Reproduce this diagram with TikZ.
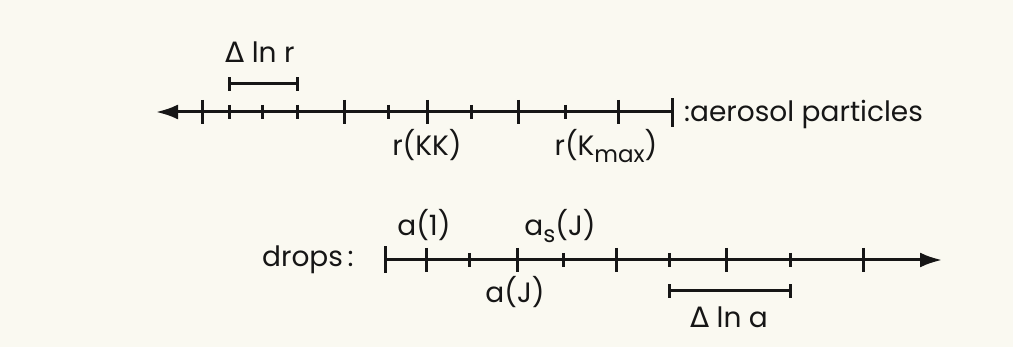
\documentclass[tikz,border=0pt]{standalone}
\usepackage{fontspec}
\setmainfont{Poppins}
\newfontfamily\deltafont{DejaVu Sans}
\usetikzlibrary{arrows.meta}
\definecolor{paper}{HTML}{FAF9F1}
\definecolor{ink}{HTML}{161616}
\newcommand{\lowidx}[1]{\raisebox{-7pt}{\fontsize{23}{23}\selectfont #1}}

\begin{document}
\begin{tikzpicture}[
  x=1pt,y=-1pt,
  axis/.style={draw=ink,line width=3pt,-{Latex[length=22pt,width=15pt]}},
  tick/.style={draw=ink,line width=3pt},
  lbl/.style={font=\fontsize{28}{28}\selectfont,text=ink,inner sep=0pt,anchor=base}
]
\fill[paper] (0,0) rectangle (1013,347);
\useasboundingbox (0,0) rectangle (1013,347);

% aerosol particles axis
\coordinate (rEnd) at (672,112);
\coordinate (rTip) at (156,112);
\draw[axis] (rEnd) -- (rTip);
\draw[tick] ([yshift=-15pt]rEnd) -- ([yshift=14pt]rEnd);
\foreach \x in {202,344,427,518,618}
  \draw[tick] (\x,{112-12}) -- (\x,{112+12});
\foreach \x in {229,262,297,388,471,565}
  \draw[tick] (\x,{112-7}) -- (\x,{112+7});

\coordinate (drA) at (229,84);
\coordinate (drB) at (297,84);
\draw[tick] (drA) -- (drB);
\draw[tick] ([yshift=-7pt]drA) -- ([yshift=7pt]drA);
\draw[tick] ([yshift=-7pt]drB) -- ([yshift=7pt]drB);

\node[lbl,anchor=base west] (dlnr) at (225,63) {{\deltafont Δ} ln r};
\node[lbl] (rKK) at (427,156) {r(KK)};
\node[lbl] (rKmax) at (606,156) {r(K\lowidx{max})};
\node[lbl,anchor=base west] (aerosol) at (684,122) {:aerosol particles};

% drops axis
\coordinate (dStart) at (385,260);
\coordinate (dTip) at (942,260);
\draw[axis] (dStart) -- (dTip);
\draw[tick] ([yshift=-13pt]dStart) -- ([yshift=14pt]dStart);
\foreach \x in {426,517,616,726,863}
  \draw[tick] (\x,{260-12}) -- (\x,{260+12});
\foreach \x in {469,563,669,790}
  \draw[tick] (\x,{260-7}) -- (\x,{260+7});

\coordinate (daA) at (669,291);
\coordinate (daB) at (790,291);
\draw[tick] (daA) -- (daB);
\draw[tick] ([yshift=-7pt]daA) -- ([yshift=7pt]daA);
\draw[tick] ([yshift=-7pt]daB) -- ([yshift=7pt]daB);

\node[lbl,anchor=base west] (drops) at (262,267) {drops\,:};
\node[lbl] (a1) at (424,236) {a(1)};
\node[lbl] (asJ) at (560,236) {a\lowidx{s}(J)};
\node[lbl] (aJ) at (515,303) {a(J)};
\node[lbl] (dlna) at (729,328) {{\deltafont Δ} ln a};
\end{tikzpicture}
\end{document}
